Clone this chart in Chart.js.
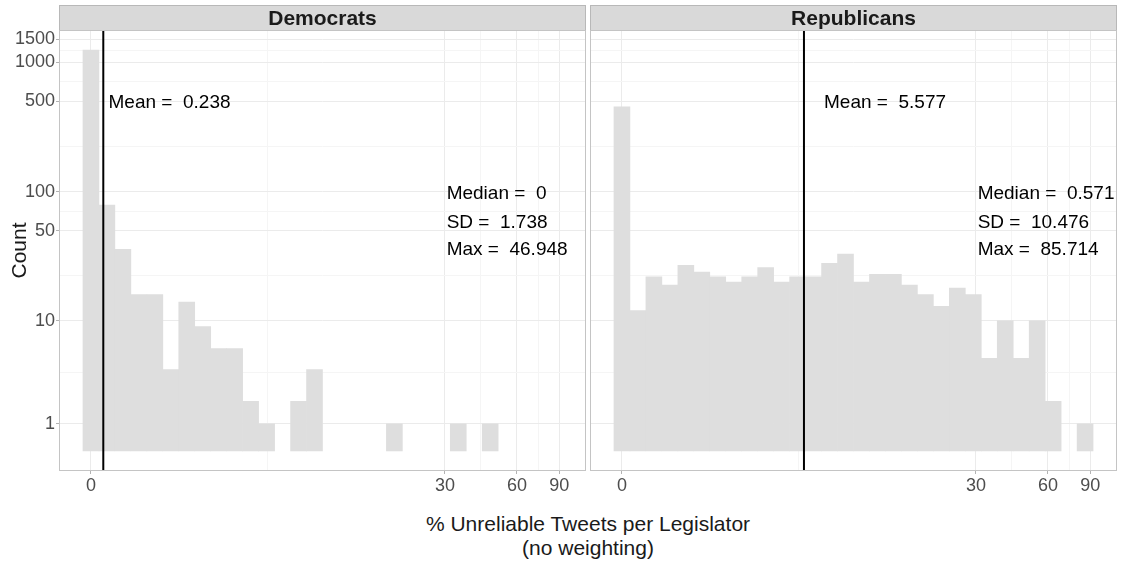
<!DOCTYPE html>
<html>
<head>
<meta charset="utf-8">
<script src="https://cdn.jsdelivr.net/npm/chart.js@4.4.1/dist/chart.umd.min.js"></script>
<style>
  body { margin: 0; background: #fff; }
  #wrap { position: relative; width: 1122px; height: 563px; overflow: hidden; }
  canvas { position: absolute; top: 0; }
  #dem { left: 0; }
  #rep { left: 588px; }
  .xtitle {
    position: absolute; left: 59px; top: 512px; width: 1058px;
    text-align: center; font-family: "Liberation Sans", Arial, sans-serif;
    font-size: 21px; line-height: 24px; color: #1a1a1a;
  }
</style>
</head>
<body>
<div id="wrap">
  <canvas id="dem" width="588" height="500"></canvas>
  <canvas id="rep" width="534" height="500"></canvas>
  <div class="xtitle">% Unreliable Tweets per Legislator<br>(no weighting)</div>
</div>
<script>
// histogram bins (centres, % unreliable tweets) - 30 bins, equal width on the pseudo-log axis
const binCenters = [0, 0.308, 0.624, 0.954, 1.307, 1.690, 2.113, 2.587, 3.121, 3.729,
  4.425, 5.226, 6.150, 7.219, 8.458, 9.898, 11.571, 13.516, 15.782, 18.419,
  21.492, 25.071, 29.242, 34.104, 39.771, 46.375, 54.079, 63.052, 73.519, 85.719];

const demCounts = [1240, 79, 36, 16, 16, 4, 14, 9, 6, 6, 2, 1, 0, 2, 4,
  0, 0, 0, 0, 1, 0, 0, 0, 1, 0, 1, 0, 0, 0, 0];
const repCounts = [453, 12, 22, 19, 27, 24, 22, 20, 22, 26, 20, 22, 22, 28, 33,
  20, 23, 23, 19, 16, 13, 18, 16, 5, 10, 5, 10, 2, 0, 1];

const demStats = { mean: 0.238, median: 0, sd: 1.738, max: 46.948 };
const repStats = { mean: 5.577, median: 0.571, sd: 10.476, max: 85.714 };

const xTicks = [0, 30, 60, 90];
const xMinor = [5.297, 42.43, 73.48];
const yTicks = [1, 10, 50, 100, 500, 1000, 1500];
const yMinor = [3.795, 22.43, 70.71, 223.6, 707.1, 1224.7];

const FONT = '"Liberation Sans", Arial, sans-serif';
const BAR = '#DEDEDE';
const GRID = '#EBEBEB';
const GRID_MINOR = '#F5F5F5';

// pseudo-log (asinh) scale, like scales::pseudo_log_trans(sigma = 1)
const tf = v => Math.asinh(v / 2);
const itf = t => 2 * Math.sinh(t);

class PseudoLogScale extends Chart.LinearScale {
  configure() {
    super.configure();
    this._tStart = tf(this.min);
    this._tRange = tf(this.max) - this._tStart;
  }
  getPixelForValue(value) {
    if (value === null || value === undefined || isNaN(value)) return NaN;
    return this.getPixelForDecimal((tf(value) - this._tStart) / this._tRange);
  }
  getValueForPixel(pixel) {
    return itf(this._tStart + this.getDecimalForPixel(pixel) * this._tRange);
  }
}
PseudoLogScale.id = 'pseudolog';
PseudoLogScale.defaults = Chart.LinearScale.defaults;
Chart.register(PseudoLogScale);

function panelPlugin(p) {
  return {
    id: 'panel',
    beforeDraw(chart) {
      const { ctx, chartArea: a } = chart;
      ctx.save();
      // facet strip
      ctx.fillStyle = '#D9D9D9';
      ctx.fillRect(a.left, 5, a.right - a.left, a.top - 5);
      ctx.strokeStyle = '#B8B8B8';
      ctx.lineWidth = 1;
      ctx.strokeRect(a.left + 0.5, 5.5, a.right - a.left - 1, a.top - 5);
      ctx.fillStyle = '#1A1A1A';
      ctx.font = 'bold 21px ' + FONT;
      ctx.textAlign = 'center';
      ctx.textBaseline = 'alphabetic';
      ctx.fillText(p.title, (a.left + a.right) / 2, 25);
      if (p.yTitle) {
        ctx.translate(25.5, (a.top + a.bottom) / 2);
        ctx.rotate(-Math.PI / 2);
        ctx.font = '21px ' + FONT;
        ctx.fillText(p.yTitle, 0, 0);
      }
      ctx.restore();
    },
    afterDatasetsDraw(chart) {
      const { ctx, chartArea: a, scales: { x, y } } = chart;
      const s = p.stats;
      ctx.save();
      const mx = x.getPixelForValue(s.mean);
      ctx.strokeStyle = '#000';
      ctx.lineWidth = 2;
      ctx.beginPath();
      ctx.moveTo(mx, a.top);
      ctx.lineTo(mx, a.bottom);
      ctx.stroke();

      ctx.fillStyle = '#000';
      ctx.font = '19px ' + FONT;
      ctx.textAlign = 'left';
      ctx.textBaseline = 'alphabetic';
      ctx.fillText('Mean =  ' + s.mean, x.getPixelForValue(p.meanLabelX), y.getPixelForValue(500) + 7);
      const sx = x.getPixelForValue(30.5);
      const sy = y.getPixelForValue(100) + 7.5;
      ctx.fillText('Median =  ' + s.median, sx, sy);
      ctx.fillText('SD =  ' + s.sd, sx, sy + 29);
      ctx.fillText('Max =  ' + s.max, sx, sy + 55.5);

      // panel border
      ctx.strokeStyle = '#C4C4C4';
      ctx.lineWidth = 1;
      ctx.strokeRect(a.left + 0.5, a.top + 0.5, a.right - a.left - 1, a.bottom - a.top - 1);
      ctx.restore();
    }
  };
}

function makeChart(id, title, counts, stats, meanLabelX, showY, padding) {
  const tickFont = { family: FONT, size: 18 };
  return new Chart(document.getElementById(id), {
    type: 'bar',
    data: {
      datasets: [{
        // empty bins are left out so no zero-height sliver is drawn
        data: counts.map((c, i) => ({ x: binCenters[i], y: c > 0 ? c : null })),
        backgroundColor: BAR,
        borderWidth: 0,
        barPercentage: 1,
        categoryPercentage: 1,
      }],
    },
    options: {
      responsive: false,
      animation: false,
      layout: { padding: padding },
      plugins: { legend: { display: false }, tooltip: { enabled: false } },
      scales: {
        x: {
          type: 'pseudolog',
          min: -0.6236,
          max: 116.5,
          bounds: 'data',
          offset: false,
          border: { display: false },
          grid: {
            offset: false,
            tickLength: 3,
            color: c => (c.tick && xTicks.includes(c.tick.value)) ? GRID : GRID_MINOR,
            tickColor: c => (c.tick && xTicks.includes(c.tick.value)) ? '#B3B3B3' : 'rgba(0,0,0,0)',
          },
          ticks: {
            autoSkip: false,
            maxRotation: 0,
            padding: 1,
            color: '#4D4D4D',
            font: tickFont,
            callback: v => xTicks.includes(v) ? String(v) : '',
          },
          afterBuildTicks: s => {
            s.ticks = xTicks.concat(xMinor).sort((a, b) => a - b).map(v => ({ value: v }));
          },
          afterFit: s => { s.height = 29; },
        },
        y: {
          type: 'pseudolog',
          min: -0.7275,
          max: 1770.5,
          bounds: 'data',
          border: { display: false },
          grid: {
            drawTicks: showY,
            tickLength: 3,
            color: c => (c.tick && yTicks.includes(c.tick.value)) ? GRID : GRID_MINOR,
            tickColor: c => (c.tick && yTicks.includes(c.tick.value)) ? '#B3B3B3' : 'rgba(0,0,0,0)',
          },
          ticks: {
            display: showY,
            autoSkip: false,
            padding: 1,
            color: '#4D4D4D',
            font: tickFont,
            callback: v => yTicks.includes(v) ? String(v) : '',
          },
          afterBuildTicks: s => {
            s.ticks = yTicks.concat(yMinor).sort((a, b) => a - b).map(v => ({ value: v }));
          },
          afterFit: s => { s.width = showY ? 59 : 0; },
        },
      },
    },
    plugins: [panelPlugin({ title: title, stats: stats, meanLabelX: meanLabelX, yTitle: showY ? 'Count' : null })],
  });
}

makeChart('dem', 'Democrats', demCounts, demStats, 0.34, true, { top: 30, right: 2 });
makeChart('rep', 'Republicans', repCounts, repStats, 6.83, false, { top: 30, left: 2, right: 5 });
</script>
</body>
</html>
